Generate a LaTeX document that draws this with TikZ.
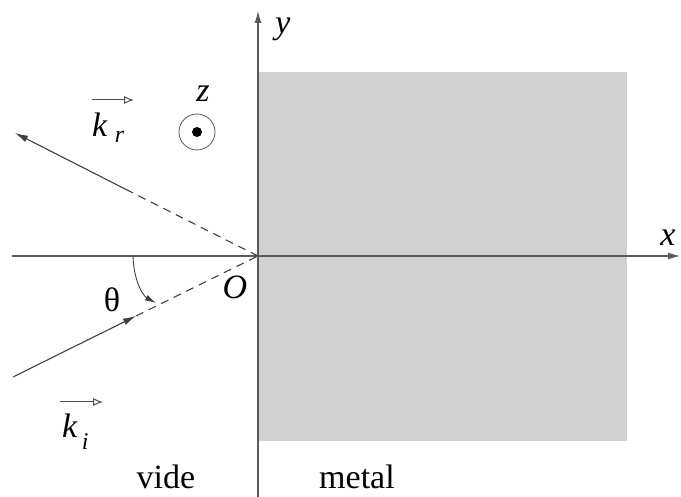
\documentclass[tikz,border=0pt]{standalone}
\usepackage{fontspec}
\setmainfont{Liberation Serif}
\usetikzlibrary{arrows.meta}
\begin{document}
\begin{tikzpicture}[x=1pt,y=-1pt,
  axis/.style={draw=black!65, line width=1.1pt, -{Latex[length=12pt,width=7pt]}},
  ray/.style={draw=black!75, line width=1.1pt},
  raydash/.style={ray, dash pattern=on 8pt off 6pt},
  tiphead/.style={-{Latex[length=13pt,width=7pt]}},
  lbl/.style={font=\fontsize{34}{36}\selectfont, inner sep=0pt},
  ovarrow/.style={draw=black!70, line width=1pt, -{Latex[open,length=10pt,width=8pt]}},
]
\useasboundingbox (0,0) rectangle (681,497);
% metal block
\fill[black!18] (259,72) rectangle (627,441);
% axes
\coordinate (O) at (258,256);
\coordinate (xs) at (12,256);
\coordinate (xe) at (680,256);
\coordinate (ys) at (258,497);
\coordinate (ye) at (258,11);
\draw[axis] (xs) -- (xe);
\draw[axis] (ys) -- (ye);
% axis labels
\node[lbl] (xl) at (668,238) {\textit{x}};
\node[lbl] (yl) at (283,29) {\textit{y}};
\node[lbl] (Ol) at (235,287) {\textit{O}};
\node[lbl] (zl) at (203,94) {\textit{z}};
% z axis symbol
\coordinate (zc) at (197,132);
\draw[black!65, line width=0.8pt] (zc) circle[radius=18];
\fill[black] (zc) circle[radius=5];
% reflected ray
\coordinate (R) at (15,133);
\coordinate (Rm) at (133,193);
\draw[raydash] (O) -- (Rm);
\draw[ray, tiphead] (Rm) -- (R);
% incident ray
\coordinate (I) at (13,377);
\coordinate (A) at (136,316);
\draw[ray, tiphead] (I) -- (A);
\draw[raydash] (A) -- (O);
% angle
\coordinate (a1) at (133,256);
\coordinate (a2) at (156,303);
\draw[ray, line width=0.9pt, -{Latex[length=11pt,width=6pt]}] (a1) .. controls (134,285) and (145,297) .. (a2);
\node[lbl] (th) at (112,300) {θ};
% wave vectors
\node[lbl, anchor=base west] (kr) at (92,137) {\textit{k}\hspace{7pt}\raisebox{-6pt}{\fontsize{24}{24}\selectfont\textit{r}}};
\coordinate (kra) at (92,100);
\coordinate (krb) at (134,100);
\draw[ovarrow] (kra) -- (krb);
\node[lbl, anchor=base west] (ki) at (62,438) {\textit{k}\hspace{4pt}\raisebox{-12pt}{\fontsize{24}{24}\selectfont\textit{i}}};
\coordinate (kia) at (60,402);
\coordinate (kib) at (103,402);
\draw[ovarrow] (kia) -- (kib);
% media
\node[lbl, anchor=base] (vide) at (166,489) {vide};
\node[lbl, anchor=base] (metal) at (357,489) {metal};
\end{tikzpicture}
\end{document}
